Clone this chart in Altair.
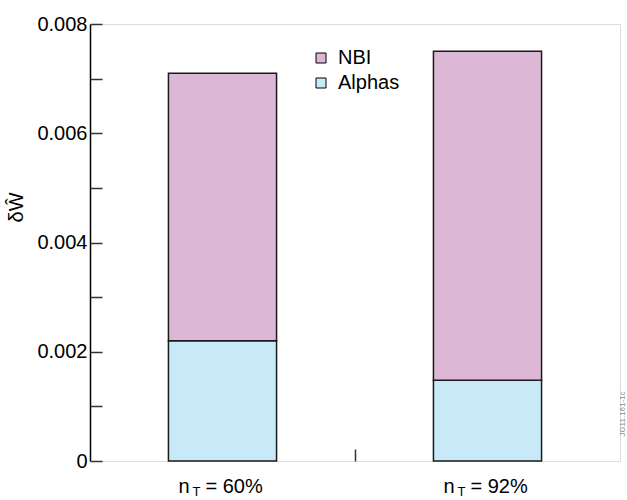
import altair as alt
import pandas as pd

# ---- data ----
categories = ["n_T = 60%", "n_T = 92%"]
label_prefix = ["n", "n"]
label_sub = ["T", "T"]
label_suffix = ["= 60%", "= 92%"]
series = ["NBI", "Alphas"]
series_colors = ["#dcb8d6", "#c7e9f8"]
alphas_vals = [0.0022, 0.00148]
nbi_vals = [0.0049, 0.00602]
stack_order = {"Alphas": 0, "NBI": 1}
y_major = [0, 0.002, 0.004, 0.006, 0.008]
y_minor = [0, 0.001, 0.002, 0.003, 0.004, 0.005, 0.006, 0.007, 0.008]
fig_id = ["JG11.161-1c"]

rows = []
for c, a, n in zip(categories, alphas_vals, nbi_vals):
    rows.append({"cat": c, "series": "Alphas", "value": a, "ord": stack_order["Alphas"]})
    rows.append({"cat": c, "series": "NBI", "value": n, "ord": stack_order["NBI"]})
df = pd.DataFrame(rows)
lab_df = pd.DataFrame({"cat": categories, "pre": label_prefix, "sub": label_sub, "suf": label_suffix})
id_df = pd.DataFrame({"id": fig_id})

W, H = 530, 437
FONT = "Liberation Sans"

xscale = alt.Scale(domain=categories, paddingInner=0, paddingOuter=0)
yscale = alt.Scale(domain=[0, 0.008], nice=False, zero=True)

bars = alt.Chart(df).mark_bar(
    stroke="#1a1a1a", strokeWidth=1.5, width=alt.RelativeBandSize(0.408)
).encode(
    x=alt.X("cat:N", sort=categories, scale=xscale,
            axis=alt.Axis(orient="bottom", labels=False, ticks=False, domain=False, title=None)),
    y=alt.Y("value:Q", stack="zero", scale=yscale,
            axis=alt.Axis(orient="left", values=y_major, ticks=False, domainColor="black",
                          domainWidth=1.5, labelFontSize=20, labelFont=FONT, labelColor="black",
                          labelPadding=3, grid=False,
                          labelExpr="datum.value == 0 ? '0' : format(datum.value, '.3f')",
                          title="δŴ", titleFont=FONT, titleFontSize=20, titleFontWeight="normal",
                          titleColor="black", titleX=-74, titleY=183, titleAngle=270,
                          titleAlign="center", titleBaseline="middle")),
    color=alt.Color("series:N", scale=alt.Scale(domain=series, range=series_colors),
                    legend=alt.Legend(title=None, orient="none", legendX=221, legendY=24,
                                      symbolType="square", symbolSize=100,
                                      symbolStrokeColor="black", symbolStrokeWidth=1,
                                      symbolOpacity=1, labelFontSize=20, labelFont=FONT,
                                      labelColor="black", labelOffset=7, rowPadding=5,
                                      padding=0)),
    order=alt.Order("ord:Q"),
)

tick_layer = alt.Chart(df).mark_point(opacity=0).encode(
    x=alt.X("cat:N", sort=categories, scale=xscale,
            axis=alt.Axis(orient="top", offset=-H, values=[categories[0]], bandPosition=1,
                          labels=False, domain=False, tickSize=12, tickColor="#333",
                          tickWidth=1.5, title=None, grid=False)),
    y=alt.Y("value:Q", scale=yscale,
            axis=alt.Axis(orient="right", offset=-W, values=y_minor, labels=False,
                          domain=False, tickSize=12, tickColor="#333", tickWidth=1.5,
                          title=None, grid=False)),
)

txt_base = alt.Chart(lab_df).encode(
    x=alt.X("cat:N", sort=categories, scale=xscale, axis=None),
    y=alt.YDatum(0, type="quantitative", scale=yscale, axis=None),
)
t_pre = txt_base.mark_text(align="left", baseline="alphabetic", dx=-44, dy=32,
                           fontSize=20, font=FONT, color="black").encode(text="pre:N")
t_sub = txt_base.mark_text(align="left", baseline="alphabetic", dx=-30, dy=35,
                           fontSize=13, font=FONT, color="black").encode(text="sub:N")
t_suf = txt_base.mark_text(align="left", baseline="alphabetic", dx=-17, dy=32,
                           fontSize=20, font=FONT, color="black").encode(text="suf:N")

id_txt = alt.Chart(id_df).mark_text(
    angle=270, align="center", baseline="middle", fontSize=8, font=FONT, color="#888"
).encode(x=alt.value(W + 3), y=alt.value(H - 47), text="id:N")

chart = alt.layer(bars, tick_layer, t_pre, t_sub, t_suf, id_txt).resolve_scale(
    x="shared", y="shared"
).resolve_axis(
    x="independent", y="independent"
).properties(
    width=W, height=H,
    autosize=alt.AutoSizeParams(type="none"),
    padding={"left": 90, "top": 24, "right": 7, "bottom": 39},
).configure_view(stroke="#666", strokeWidth=1.5).configure(background="white")

chart.save("out.html", embed_options={"renderer": "svg", "actions": False})
